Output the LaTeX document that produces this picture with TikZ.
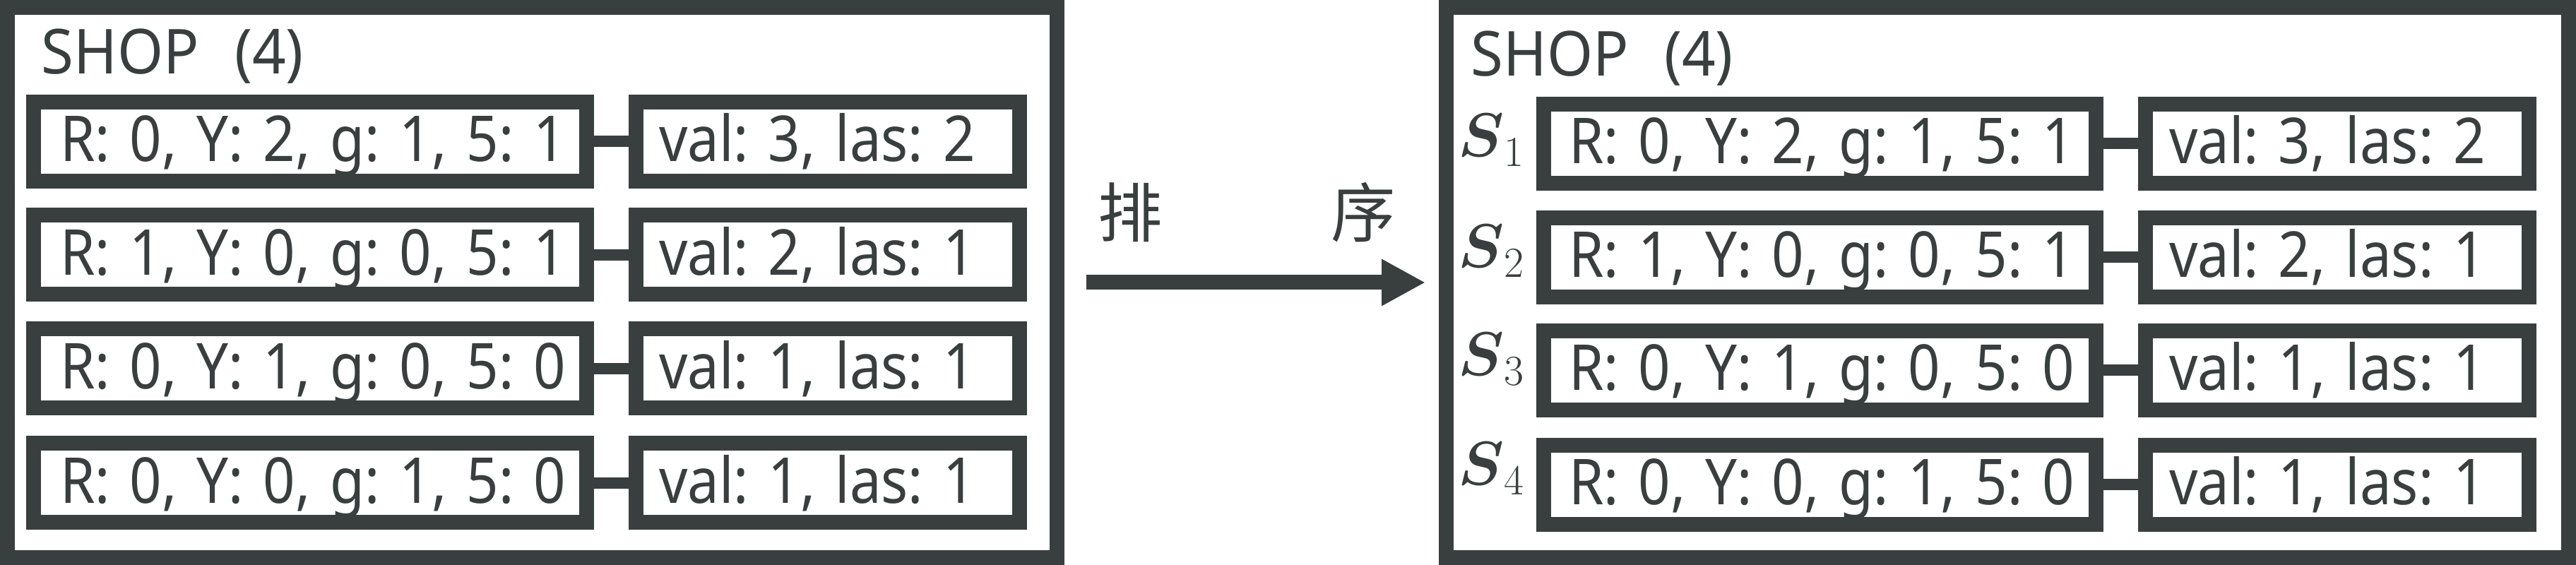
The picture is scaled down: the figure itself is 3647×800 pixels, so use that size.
\documentclass[tikz,border=0pt]{standalone}
\usepackage{graphicx}
\usepackage{fontspec}
\usepackage{amsmath}
\setmainfont{Noto Sans}[FakeStretch=0.95]
\newfontfamily\cjk{Noto Sans CJK SC}
\usetikzlibrary{arrows.meta}
\definecolor{ink}{RGB}{57,62,63}
\frenchspacing
\newcommand{\narrowtxt}[1]{\scalebox{0.935}[1]{#1}}
\begin{document}
\begin{tikzpicture}[x=0.1mm,y=-0.1mm,
  every node/.style={text=ink},
  frame/.style={draw=ink, line width=2.1mm, minimum height=77.9mm, inner sep=0pt},
  kbox/.style={draw=ink, line width=2.1mm, minimum height=11.2mm, inner ysep=0pt,
    align=left, text height=6.4mm, text depth=0.7mm,
    font=\fontsize{25.5}{30}\selectfont\frenchspacing},
  lbig/.style={kbox, text width=70.8mm, inner xsep=3.75mm},
  lsmall/.style={kbox, text width=47.8mm, inner xsep=3.25mm},
  rbig/.style={kbox, text width=71.1mm, inner xsep=3.55mm},
  rsmall/.style={kbox, text width=47.6mm, inner xsep=3.35mm},
  link/.style={draw=ink, line width=1.6mm},
  title/.style={anchor=base west, inner sep=0pt, font=\fontsize{25}{30}\selectfont},
  slabel/.style={anchor=base west, inner sep=0pt, font=\fontsize{24}{28}\selectfont}
]
\useasboundingbox (0,0) rectangle (3647,800);

% frames
\node[frame, minimum width=148.6mm] (shopL) at (753.5,400) {};
\node[frame, minimum width=158.9mm] (shopR) at (2842,400) {};

\node[title] (titleL) at (58,105) {SHOP\hspace{5mm}(4)};
\node[title] (titleR) at (2082,108) {SHOP\hspace{5mm}(4)};

% rows
\foreach \i/\ly/\ry/\k/\v in {
  1/200.5/203.5/{R: 0, Y: 2, g: 1, 5: 1}/{val: 3, las: 2},
  2/361/364.5/{R: 1, Y: 0, g: 0, 5: 1}/{val: 2, las: 1},
  3/522/524.5/{R: 0, Y: 1, g: 0, 5: 0}/{val: 1, las: 1},
  4/684/686.5/{R: 0, Y: 0, g: 1, 5: 0}/{val: 1, las: 1}}{
  \node[lbig]   (lk\i) at (439,\ly)    {\narrowtxt{\k}};
  \node[lsmall] (lv\i) at (1172,\ly)   {\narrowtxt{\v}};
  \node[rbig]   (rk\i) at (2576.5,\ry) {\narrowtxt{\k}};
  \node[rsmall] (rv\i) at (3309,\ry)   {\narrowtxt{\v}};
  \draw[link] (lk\i.east) -- (lv\i.west);
  \draw[link] (rk\i.east) -- (rv\i.west);
}

% s labels
\node[slabel] (s1) at (2064,222) {$\boldsymbol{S}_{1}$};
\node[slabel] (s2) at (2064,379) {$\boldsymbol{S}_{2}$};
\node[slabel] (s3) at (2064,532) {$\boldsymbol{S}_{3}$};
\node[slabel] (s4) at (2064,687) {$\boldsymbol{S}_{4}$};

% arrow
\coordinate (a1) at (1538,400);
\coordinate (a2) at (2018,400);
\draw[draw=ink, fill=ink, line width=2.1mm, -{Triangle[length=6.2mm,width=6.2mm]}] (a1) -- (a2);
\node[font=\fontsize{26}{30}\selectfont\cjk, inner sep=0pt] (sortlabel) at (1765,301) {排\hspace{23.85mm}序};
\end{tikzpicture}
\end{document}
